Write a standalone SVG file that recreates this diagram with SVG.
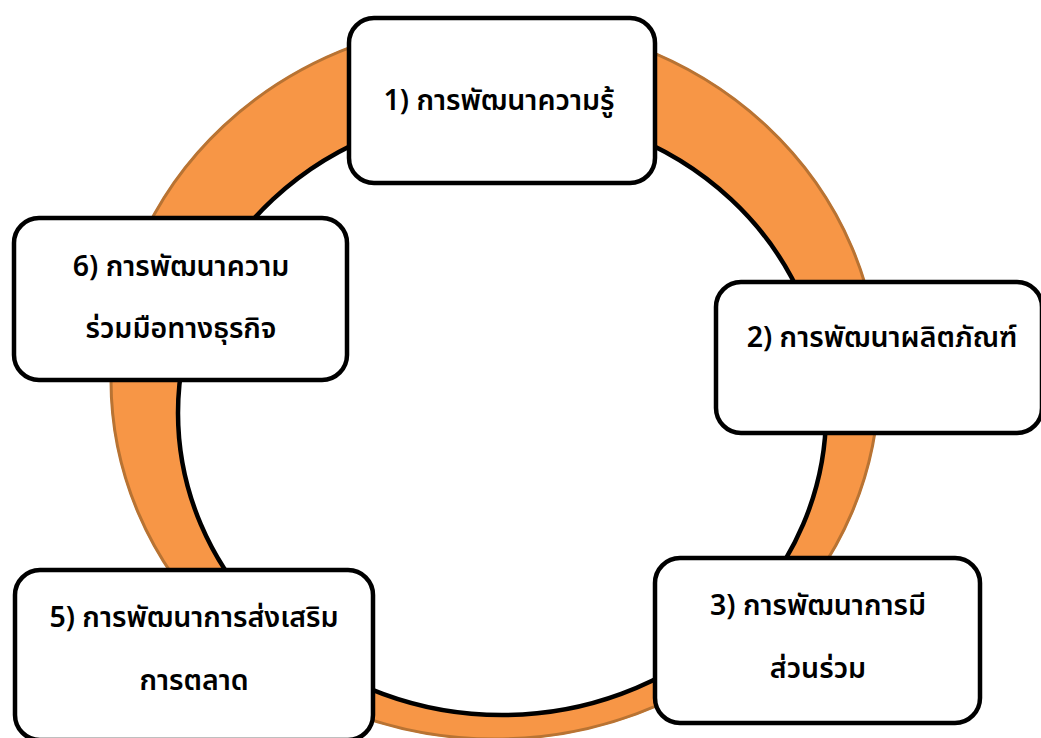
<svg xmlns="http://www.w3.org/2000/svg" width="1041" height="738" viewBox="0 0 1041 738">
<style>
.box{fill:#fff;stroke:#000;stroke-width:4.5}
.lbl{font-family:"Noto Sans Thai","Noto Sans","DejaVu Sans",sans-serif;font-size:28.5px;font-weight:600;fill:#000;text-anchor:middle}
</style>
<rect width="1041" height="738" fill="#fff"/>
<g id="ring">
<path d="M110,380 a385,360 0 1,0 770,0 a385,360 0 1,0 -770,0 Z M178,413 a324,302 0 1,0 648,0 a324,302 0 1,0 -648,0 Z" fill="#F79646" fill-rule="evenodd"/>
<ellipse cx="495" cy="380" rx="384" ry="359" fill="none" stroke="#B87333" stroke-width="3"/>
<ellipse cx="502" cy="413" rx="324" ry="302" fill="none" stroke="#000" stroke-width="4.5"/>
</g>
<g id="connectors"></g>
<g id="node1">
<rect class="box" x="349" y="18" width="306" height="165" rx="25"/>
<text class="lbl" x="499" y="110">1) การพัฒนาความรู้</text>
</g>
<g id="node2">
<rect class="box" x="716" y="282" width="326" height="151" rx="25"/>
<text class="lbl" x="882" y="347">2) การพัฒนาผลิตภัณฑ์</text>
</g>
<g id="node3">
<rect class="box" x="655" y="558" width="325" height="165" rx="25"/>
<text class="lbl" x="818" y="615">3) การพัฒนาการมี</text>
<text class="lbl" x="818" y="678">ส่วนร่วม</text>
</g>
<g id="node5">
<rect class="box" x="15" y="570" width="358" height="170" rx="25"/>
<text class="lbl" x="194" y="627">5) การพัฒนาการส่งเสริม</text>
<text class="lbl" x="194" y="690">การตลาด</text>
</g>
<g id="node6">
<rect class="box" x="14" y="218" width="333" height="162" rx="25"/>
<text class="lbl" x="181" y="276">6) การพัฒนาความ</text>
<text class="lbl" x="181" y="338">ร่วมมือทางธุรกิจ</text>
</g>
</svg>
